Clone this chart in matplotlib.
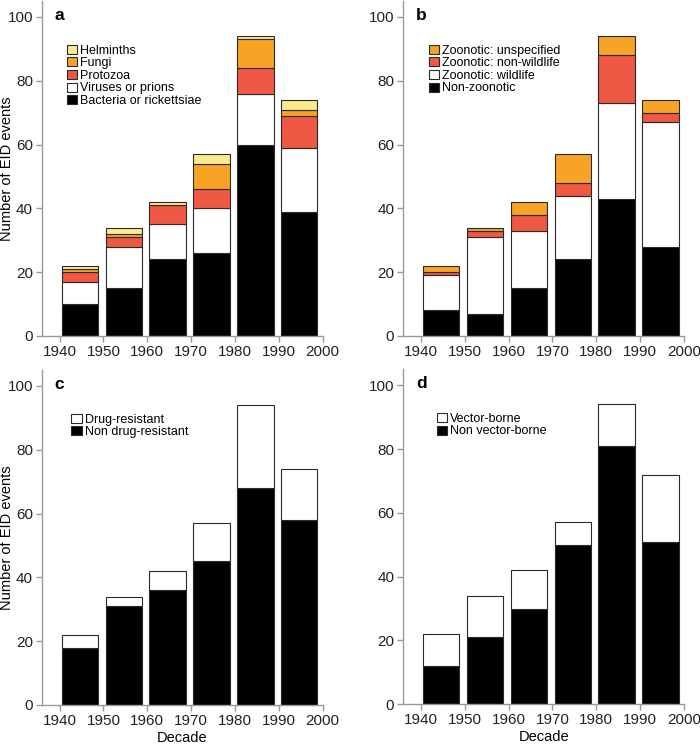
import numpy as np
import matplotlib
matplotlib.use("Agg")
import matplotlib.pyplot as plt
from matplotlib.patches import Patch

plt.rcParams['font.family'] = ['Liberation Sans', 'DejaVu Sans']

decades = [1940, 1950, 1960, 1970, 1980, 1990]

# panel a: pathogen type
bacteria = [10, 15, 24, 26, 60, 39]
viruses = [7, 13, 11, 14, 16, 20]
protozoa = [3, 3, 6, 6, 8, 10]
fungi = [1, 1, 0, 8, 9, 2]
helminths = [1, 2, 1, 3, 1, 3]

# panel b: transmission type
non_zoonotic = [8, 7, 15, 24, 43, 28]
zoo_wildlife = [11, 24, 18, 20, 30, 39]
zoo_nonwildlife = [1, 2, 5, 4, 15, 3]
zoo_unspecified = [2, 1, 4, 9, 6, 4]

# panel c: drug resistance
non_drug = [18, 31, 36, 45, 68, 58]
drug = [4, 3, 6, 12, 26, 16]

# panel d: vector-borne
non_vector = [12, 21, 30, 50, 81, 51]
vector = [10, 13, 12, 7, 13, 21]

BLACK = '#000000'
WHITE = '#ffffff'
RED = '#ef5842'
ORANGE = '#f7a325'
YELLOW = '#fbeb8e'
EDGE = '#2a2a2a'
SPINE = '#9a9a9a'


def stacked(ax, series, colors, labels, letter, leg_x):
    x = np.array(decades) + 0.5
    bottom = np.zeros(len(decades))
    for vals, c in zip(series, colors):
        ax.bar(x, vals, width=8.3, bottom=bottom, align='edge', color=c,
               edgecolor=EDGE, linewidth=0.8)
        bottom += np.array(vals)
    ax.set_xlim(1936, 2000)
    ax.set_ylim(0, 105)
    ax.set_xticks([1940, 1950, 1960, 1970, 1980, 1990, 2000])
    ax.set_yticks([0, 20, 40, 60, 80, 100])
    for s in ['top', 'right']:
        ax.spines[s].set_visible(False)
    for s in ['left', 'bottom']:
        ax.spines[s].set_color(SPINE)
        ax.spines[s].set_linewidth(1.0)
    ax.tick_params(colors=SPINE, labelcolor='#222222', labelsize=11,
                   length=4, width=1.0, direction='out', pad=2.5)
    ax.text(0.045, 0.943, letter, transform=ax.transAxes, fontsize=12.5,
            fontweight='bold', va='baseline', ha='left')
    handles = [Patch(facecolor=c, edgecolor=EDGE, linewidth=0.8)
               for c in colors[::-1]]
    ax.legend(handles, labels[::-1], loc='upper left',
              bbox_to_anchor=(leg_x, 0.87), frameon=False, fontsize=9,
              handlelength=0.82, handleheight=0.75, handletextpad=0.25,
              labelspacing=0.05, borderpad=0, borderaxespad=0)


fig = plt.figure(figsize=(7.0, 7.46), dpi=100)
ax_a = fig.add_axes([0.06, 0.5496, 0.401, 0.449])
ax_b = fig.add_axes([0.5761, 0.5496, 0.401, 0.449])
ax_c = fig.add_axes([0.06, 0.055, 0.401, 0.449])
ax_d = fig.add_axes([0.5761, 0.056, 0.401, 0.449])

stacked(ax_a, [bacteria, viruses, protozoa, fungi, helminths],
        [BLACK, WHITE, RED, ORANGE, YELLOW],
        ['Bacteria or rickettsiae', 'Viruses or prions', 'Protozoa', 'Fungi', 'Helminths'],
        'a', 0.088)
stacked(ax_b, [non_zoonotic, zoo_wildlife, zoo_nonwildlife, zoo_unspecified],
        [BLACK, WHITE, RED, ORANGE],
        ['Non-zoonotic', 'Zoonotic: wildlife', 'Zoonotic: non-wildlife', 'Zoonotic: unspecified'],
        'b', 0.092)
stacked(ax_c, [non_drug, drug], [BLACK, WHITE],
        ['Non drug-resistant', 'Drug-resistant'], 'c', 0.105)
stacked(ax_d, [non_vector, vector], [BLACK, WHITE],
        ['Non vector-borne', 'Vector-borne'], 'd', 0.12)

for ax in [ax_a, ax_c]:
    ax.set_ylabel('Number of EID events', fontsize=10.5)
    ax.yaxis.set_label_coords(-0.098, 0.5)
for ax in [ax_c, ax_d]:
    ax.set_xlabel('Decade', fontsize=10.5, labelpad=2)

fig.savefig('out.png', dpi=100)
